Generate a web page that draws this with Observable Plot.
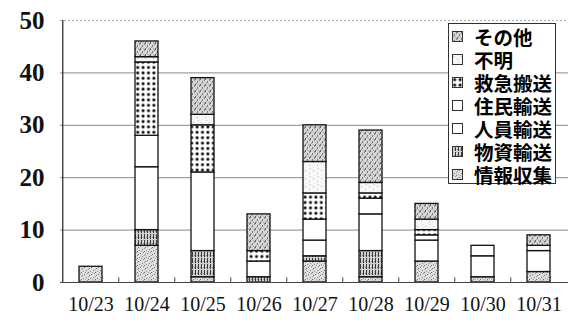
<!DOCTYPE html>
<html>
<head>
<meta charset="utf-8">
<script src="https://cdn.jsdelivr.net/npm/d3@7"></script>
<script src="https://cdn.jsdelivr.net/npm/@observablehq/plot@0.6"></script>
<style>
  html, body { margin: 0; padding: 0; background: #fff; }
  #wrap { position: relative; width: 568px; height: 324px; }
  #legend {
    position: absolute; left: 448px; top: 23px; width: 108px; height: 161px;
    background: #fff; border: 1px solid #333; box-sizing: border-box;
    padding-top: 1px;
    font-family: "Noto Sans CJK JP", sans-serif; font-weight: 700; font-size: 19.5px;
  }
  #legend .row { display: flex; align-items: center; height: 23px; line-height: 23px; white-space: nowrap; }
  #legend svg { margin-left: 3px; margin-right: 11px; flex: none; }
</style>
</head>
<body>
<!-- fill patterns shared by the bars and the legend swatches -->
<svg width="0" height="0" style="position:absolute">
  <defs>
    <pattern id="p-info" width="7" height="7" patternUnits="userSpaceOnUse">
      <rect width="7" height="7" fill="#dedede"/>
      <rect x="0" y="1" width="1" height="1" fill="#707070"/>
      <rect x="3" y="0" width="1" height="1" fill="#909090"/>
      <rect x="5" y="2" width="1" height="1" fill="#707070"/>
      <rect x="2" y="4" width="1" height="1" fill="#808080"/>
      <rect x="6" y="5" width="1" height="1" fill="#909090"/>
      <rect x="4" y="6" width="1" height="1" fill="#707070"/>
      <rect x="1" y="6" width="1" height="1" fill="#a0a0a0"/>
      <rect x="4" y="3" width="1" height="1" fill="#a0a0a0"/>
    </pattern>
    <pattern id="p-goods" width="3" height="6" patternUnits="userSpaceOnUse">
      <rect width="3" height="6" fill="#d0d0d0"/>
      <rect x="0" y="0" width="1" height="5" fill="#3a3a3a"/>
      <rect x="2" y="3" width="1" height="1" fill="#888"/>
    </pattern>
    <pattern id="p-white" width="4" height="4" patternUnits="userSpaceOnUse">
      <rect width="4" height="4" fill="#fff"/>
    </pattern>
    <pattern id="p-emerg" width="5.4" height="5.4" patternUnits="userSpaceOnUse">
      <rect width="5.4" height="5.4" fill="#fff"/>
      <circle cx="2.7" cy="2.7" r="1.55" fill="#111"/>
    </pattern>
    <pattern id="p-unknown" width="8" height="8" patternUnits="userSpaceOnUse">
      <rect width="8" height="8" fill="#f6f6f6"/>
      <rect x="1" y="2" width="1" height="1" fill="#b8b8b8"/>
      <rect x="5" y="5" width="1" height="1" fill="#c4c4c4"/>
      <rect x="6" y="0" width="1" height="1" fill="#cccccc"/>
    </pattern>
    <pattern id="p-other" width="5" height="6" patternUnits="userSpaceOnUse">
      <rect width="5" height="6" fill="#d6d6d6"/>
      <rect x="0" y="0" width="1" height="2" fill="#6a6a6a"/>
      <rect x="2" y="3" width="1" height="2" fill="#7a7a7a"/>
      <rect x="4" y="1" width="1" height="2" fill="#8a8a8a"/>
      <rect x="1" y="5" width="1" height="1" fill="#999"/>
      <rect x="3" y="0" width="1" height="1" fill="#aaa"/>
    </pattern>
  </defs>
</svg>

<div id="wrap"></div>

<script>
// Dates along the x axis
const dates = ["10/23", "10/24", "10/25", "10/26", "10/27", "10/28", "10/29", "10/30", "10/31"];

// Mission categories, stacked bottom to top
const series = ["情報収集", "物資輸送", "人員輸送", "住民輸送", "救急搬送", "不明", "その他"];

// Flight counts per category, one value per date
const infoGathering   = [3, 7, 1, 0, 4, 1, 4, 1, 2];
const supplyTransport = [0, 3, 5, 1, 1, 5, 0, 0, 0];
const staffTransport  = [0, 12, 15, 3, 3, 7, 4, 4, 4];
const residentTransp  = [0, 6, 0, 0, 4, 3, 1, 2, 1];
const emergencyTransp = [0, 14, 9, 2, 5, 1, 1, 0, 0];
const unknown         = [0, 1, 2, 0, 6, 2, 2, 0, 0];
const other           = [0, 3, 7, 7, 7, 10, 3, 0, 2];

const yTicks = [0, 10, 20, 30, 40, 50];

const valuesBySeries = [infoGathering, supplyTransport, staffTransport, residentTransp, emergencyTransp, unknown, other];
const fills = ["url(#p-info)", "url(#p-goods)", "url(#p-white)", "url(#p-white)", "url(#p-emerg)", "url(#p-unknown)", "url(#p-other)"];

const rows = [];
series.forEach((s, i) => {
  dates.forEach((d, j) => {
    const v = valuesBySeries[i][j];
    if (v > 0) rows.push({date: d, series: s, value: v});
  });
});

const W = 568, H = 324, mL = 60, mR = 0, mT = 20, mB = 42;
const step = (W - mL - mR) / dates.length;

const chart = Plot.plot({
  width: W,
  height: H,
  marginLeft: mL,
  marginRight: mR,
  marginTop: mT,
  marginBottom: mB,
  style: {background: "transparent", color: "#111"},
  x: {domain: dates, paddingInner: 0.59, paddingOuter: 0.295, label: null},
  y: {domain: [0, 50], label: null},
  color: {domain: series, range: fills},
  marks: [
    // horizontal gridlines
    Plot.ruleY(yTicks.filter(t => t > 0 && t < 50), {stroke: "#8a8a8a", strokeWidth: 1}),
    Plot.ruleY([50], {stroke: "#aaa", strokeWidth: 1, strokeDasharray: "2,2"}),
    // stacked bars
    Plot.barY(rows, {
      x: "date", y: "value", fill: "series", order: series,
      stroke: "#111", strokeWidth: 1.3
    }),
    // baseline and left axis line
    Plot.ruleY([0], {stroke: "#444", strokeWidth: 1}),
    Plot.ruleX([dates[0]], {dx: -step / 2, y1: 0, y2: 50, stroke: "#222", strokeWidth: 1.2}),
    // small ticks between the date bands
    Plot.ruleX(dates.slice(1), {dx: -step / 2, y1: 0, y2: 0.9, stroke: "#444", strokeWidth: 1}),
    Plot.axisY({
      ticks: yTicks, tickSize: 0, tickPadding: 16,
      fontSize: 25, fontWeight: "bold", fontFamily: "'Liberation Serif', 'DejaVu Serif', serif",
      fill: "#111"
    }),
    Plot.axisX({
      tickSize: 0, tickPadding: 14,
      fontSize: 20, fontFamily: "'Liberation Serif', 'DejaVu Serif', serif",
      fill: "#111"
    })
  ]
});

const wrap = document.getElementById("wrap");
wrap.appendChild(chart);

// Legend, top row is the top of the stack
const legend = document.createElement("div");
legend.id = "legend";
series.map((s, i) => ({s, f: fills[i]})).reverse().forEach(({s, f}) => {
  const row = document.createElement("div");
  row.className = "row";
  row.innerHTML =
    `<svg width="11" height="11"><rect x="0.5" y="0.5" width="10" height="10" fill="${f}" stroke="#333" stroke-width="1"/></svg><span>${s}</span>`;
  legend.appendChild(row);
});
wrap.appendChild(legend);
</script>
</body>
</html>
